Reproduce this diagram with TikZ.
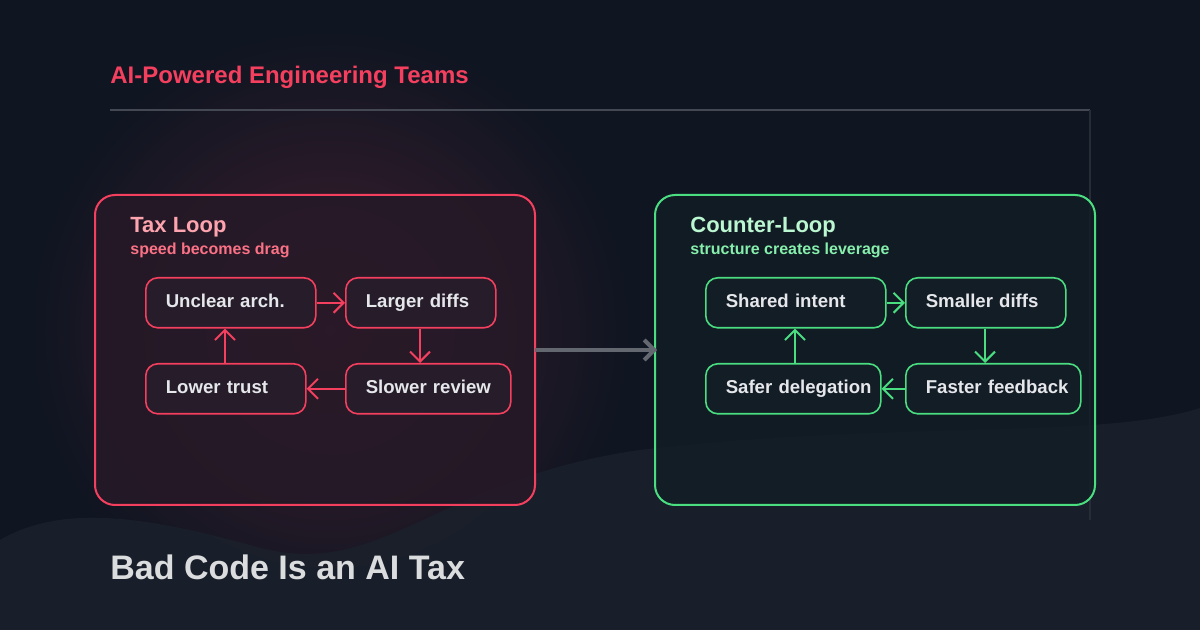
\documentclass[tikz,border=0pt]{standalone}
\usepackage{fontspec}
\setmainfont{Liberation Sans}
\usetikzlibrary{positioning,arrows.meta}
\definecolor{bgdark}{HTML}{0F1521}
\definecolor{wavecol}{HTML}{1A212C}
\definecolor{taxred}{HTML}{F43F5E}
\definecolor{taxpink}{HTML}{FDA4AF}
\definecolor{taxsub}{HTML}{FB7185}
\definecolor{cgreen}{HTML}{4ADE80}
\definecolor{csub}{HTML}{86EFAC}
\definecolor{ctitle}{HTML}{BBF7D0}
\definecolor{txt}{HTML}{E5E7EB}
\tikzset{
    tax box/.style={
        draw=taxred,
        fill=taxred!10!bgdark,
        fill opacity=0.85,
        line width=1pt,
        rounded corners=10pt,
    },
    counter box/.style={
        draw=cgreen,
        fill=white!10!cgreen!4!bgdark,
        fill opacity=0.85,
        line width=1pt,
        rounded corners=10pt,
    },
    tax step/.style={
        draw=taxred,
        fill=white!16!taxred!10!bgdark,
        line width=0.8pt,
        rounded corners=6pt,
        rectangle, % step node
        minimum height=25pt,
        inner xsep=10pt,
        text height=7pt,
        text depth=2pt,
        align=left,
        text=txt,
        font=\bfseries\fontsize{9.3}{11}\selectfont,
        anchor=north west,
    },
    counter step/.style={
        tax step,
        draw=cgreen,
        fill=white!16!cgreen!4!bgdark,
    },
    tax arrow/.style={draw=taxred, line width=1pt, -{Straight Barb[length=5pt,width=10pt]}},
    counter arrow/.style={tax arrow, draw=cgreen},
}
\begin{document}
\begin{tikzpicture}[x=0.5pt,y=-0.5pt]
\useasboundingbox (0,0) rectangle (1200,630);
\fill[bgdark] (0,0) rectangle (1200,630);
\shade[inner color=taxred!22!bgdark, outer color=bgdark] (330,330) circle (300);
\fill[wavecol, opacity=0.85] (0,540) .. controls (60,505) and (140,515) .. (250,545)
    .. controls (380,585) and (430,480) .. (640,450)
    .. controls (900,420) and (1100,440) .. (1200,408) -- (1200,630) -- (0,630) -- cycle;

% header
\node[anchor=base west, text=taxred, font=\bfseries\fontsize{12}{14}\selectfont, inner sep=0]
    (header) at (110,84) {AI-Powered Engineering Teams};
\draw[white!22!bgdark, line width=0.6pt] (110,110) -- (1090,110);
\draw[white!10!bgdark, line width=0.6pt] (1090,110) -- (1090,520);

% loops
\draw[tax box] (95,195) rectangle (535,505);
\draw[counter box] (655,195) rectangle (1095,505);

\node[anchor=base west, inner sep=0, text=taxpink, font=\bfseries\fontsize{11}{13}\selectfont] (taxTitle) at (130,233) {Tax Loop};
\node[anchor=base west, inner sep=0, text=taxsub, font=\bfseries\fontsize{8}{10}\selectfont] (taxSub) at (130,255) {speed becomes drag};
\node[anchor=base west, inner sep=0, text=ctitle, font=\bfseries\fontsize{11}{13}\selectfont] (counterTitle) at (690,233) {Counter-Loop};
\node[anchor=base west, inner sep=0, text=csub, font=\bfseries\fontsize{8}{10}\selectfont] (counterSub) at (690,255) {structure creates leverage};

\node[tax step, text width=65pt] at (145,277) (unclear) {\mbox{Unclear arch.}};
\node[tax step, text width=55pt] at (345,277) (larger) {\mbox{Larger diffs}};
\node[tax step, text width=60pt] at (145,363) (lower) {\mbox{Lower trust}};
\node[tax step, text width=62.5pt] at (345,363) (slower) {\mbox{Slower review}};

\node[counter step, text width=70pt] at (705,277) (shared) {\mbox{Shared intent}};
\node[counter step, text width=60pt] at (905,277) (smaller) {\mbox{Smaller diffs}};
\node[counter step, text width=67.5pt] at (705,363) (safer) {\mbox{Safer delegation}};
\node[counter step, text width=67.5pt] at (905,363) (faster) {\mbox{Faster feedback}};

\draw[tax arrow] (unclear) -- (larger);
\draw[tax arrow] (larger.south -| 420,0) -- (slower.north -| 420,0);
\draw[tax arrow] (slower) -- (lower);
\draw[tax arrow] (lower.north -| 225,0) -- (unclear.south -| 225,0);

\draw[counter arrow] (shared) -- (smaller);
\draw[counter arrow] (smaller.south -| 985,0) -- (faster.north -| 985,0);
\draw[counter arrow] (faster) -- (safer);
\draw[counter arrow] (safer.north -| 795,0) -- (shared.south -| 795,0);

\coordinate (bridgeA) at (535,350);
\coordinate (bridgeB) at (657,350);
\draw[white!35!bgdark, line width=2pt, -{Straight Barb[length=5pt,width=10pt]}] (bridgeA) -- (bridgeB);

\node[anchor=base west, inner sep=0, text=white!85!bgdark, font=\bfseries\fontsize{17}{20}\selectfont] (mainTitle) at (110,580) {Bad Code Is an AI Tax};
\end{tikzpicture}
\end{document}
